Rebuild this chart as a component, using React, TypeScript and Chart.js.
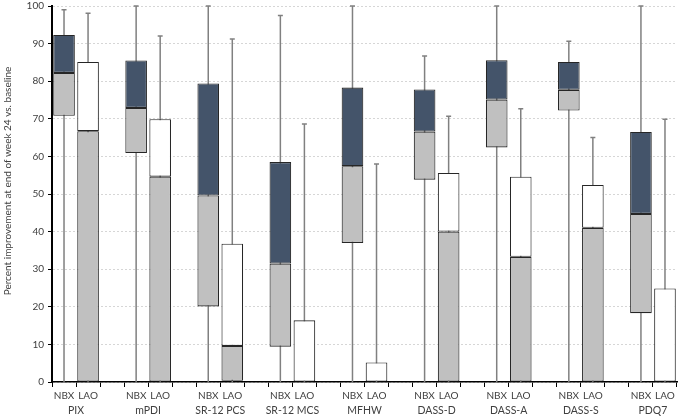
import React, { useEffect, useRef } from 'react';
import { Chart, registerables } from 'chart.js';

Chart.register(...registerables);

const categories = ['PIX', 'mPDI', 'SR-12 PCS', 'SR-12 MCS', 'MFHW', 'DASS-D', 'DASS-A', 'DASS-S', 'PDQ7'];
const groups = ['NBX', 'LAO'];

const nbxMin = [0, 0, 0, 0, 0, 0, 0, 0, 0];
const nbxQ1 = [70.8, 60.9, 20.1, 9.4, 37.0, 53.8, 62.4, 72.2, 18.3];
const nbxMedian = [82.2, 72.9, 49.6, 31.5, 57.4, 66.6, 75.1, 77.7, 44.7];
const nbxQ3 = [92.3, 85.5, 79.4, 58.5, 78.3, 77.8, 85.6, 85.1, 66.5];
const nbxMax = [99.0, 100, 100, 97.5, 100, 86.7, 100, 90.6, 100];

const laoMin = [0, 0, 0, 0, 0, 0, 0, 0, 0];
const laoQ1 = [0, 0, 0.3, 0, 0, 0, 0, 0, 0];
const laoMedian = [66.7, 54.6, 9.6, 0, 0, 40.0, 33.3, 41.0, 0];
const laoQ3 = [85.1, 69.9, 36.8, 16.4, 5.2, 55.6, 54.6, 52.4, 24.9];
const laoMax = [98.1, 92.0, 91.2, 68.6, 58.0, 70.7, 72.7, 65.0, 69.9];

const yMin = 0;
const yMax = 100;
const yStep = 10;
const yTitle = 'Percent improvement at end of week 24 vs. baseline';

const FONT = "Lato, 'Open Sans', sans-serif";
const TEXT = '#404040';

// slot layout: NBX, LAO, blank per category (no trailing blank)
const xLabels: string[] = [];
const nbxLower: (number[] | null)[] = [];
const nbxUpper: (number[] | null)[] = [];
const laoLower: (number[] | null)[] = [];
const laoUpper: (number[] | null)[] = [];
categories.forEach((_, k) => {
  xLabels.push(groups[0], groups[1]);
  nbxLower.push(nbxMedian[k] > nbxQ1[k] ? [nbxQ1[k], nbxMedian[k]] : null, null);
  nbxUpper.push(nbxQ3[k] > nbxMedian[k] ? [nbxMedian[k], nbxQ3[k]] : null, null);
  laoLower.push(null, laoMedian[k] > laoQ1[k] ? [laoQ1[k], laoMedian[k]] : null);
  laoUpper.push(null, laoQ3[k] > laoMedian[k] ? [laoMedian[k], laoQ3[k]] : null);
  if (k < categories.length - 1) {
    xLabels.push('');
    nbxLower.push(null);
    nbxUpper.push(null);
    laoLower.push(null);
    laoUpper.push(null);
  }
});

const whiskerPlugin = {
  id: 'whiskers',
  beforeDatasetsDraw(chart: any) {
    const { ctx, scales } = chart;
    const x = scales.x;
    const y = scales.y;
    ctx.save();
    ctx.strokeStyle = '#808080';
    ctx.lineWidth = 1.5;
    const draw = (slot: number, lo: number, hi: number) => {
      const px = x.getPixelForValue(slot);
      const y1 = y.getPixelForValue(lo);
      const y2 = y.getPixelForValue(hi);
      ctx.beginPath();
      ctx.moveTo(px, y1);
      ctx.lineTo(px, y2);
      ctx.moveTo(px - 2.5, y2);
      ctx.lineTo(px + 2.5, y2);
      ctx.stroke();
    };
    categories.forEach((_, k) => {
      draw(3 * k, nbxMin[k], nbxMax[k]);
      draw(3 * k + 1, laoMin[k], laoMax[k]);
    });
    ctx.restore();
  },
};

const textPlugin = {
  id: 'groupLabels',
  afterDraw(chart: any) {
    const { ctx, scales } = chart;
    const x = scales.x;
    ctx.save();
    ctx.fillStyle = TEXT;
    ctx.font = `10.5px ${FONT}`;
    ctx.textAlign = 'center';
    ctx.textBaseline = 'middle';
    categories.forEach((name, k) => {
      const px = (x.getPixelForValue(3 * k) + x.getPixelForValue(3 * k + 1)) / 2;
      ctx.fillText(name, px, 411);
    });
    // y-axis title
    ctx.translate(8, 181);
    ctx.rotate(-Math.PI / 2);
    ctx.font = `10px ${FONT}`;
    ctx.fillText(yTitle, 0, 0);
    ctx.restore();
  },
};

export default function App() {
  const ref = useRef<HTMLCanvasElement | null>(null);
  useEffect(() => {
    if (!ref.current) return;
    const barCommon = {
      grouped: false,
      borderColor: '#262626',
      borderWidth: 1.1,
      borderSkipped: false,
      barPercentage: 0.9,
      categoryPercentage: 1.0,
    };
    const chart = new Chart(ref.current, {
      type: 'bar',
      data: {
        labels: xLabels,
        datasets: [
          { ...barCommon, label: 'NBX lower', data: nbxLower as any, backgroundColor: '#c0c0c0' },
          { ...barCommon, label: 'NBX upper', data: nbxUpper as any, backgroundColor: '#44546a' },
          { ...barCommon, label: 'LAO lower', data: laoLower as any, backgroundColor: '#c0c0c0' },
          { ...barCommon, label: 'LAO upper', data: laoUpper as any, backgroundColor: '#ffffff' },
        ],
      },
      options: {
        responsive: false,
        animation: false,
        layout: { padding: { top: 6, right: 3, left: 0, bottom: 0 } },
        plugins: { legend: { display: false }, tooltip: { enabled: false } },
        scales: {
          x: {
            type: 'category',
            afterFit: (s: any) => { s.height = 36; s.paddingLeft = 0; s.paddingRight = 0; },
            grid: {
              display: true,
              offset: true,
              drawOnChartArea: false,
              drawTicks: true,
              tickLength: 5,
              tickColor: '#000000',
              tickWidth: 1,
            },
            border: { display: true, color: '#000000', width: 1.5 },
            ticks: {
              autoSkip: false,
              maxRotation: 0,
              padding: 3,
              color: TEXT,
              font: { family: FONT, size: 10 },
            },
          },
          y: {
            min: yMin,
            max: yMax,
            afterFit: (s: any) => { s.width = 52; s.paddingTop = 0; s.paddingBottom = 0; },
            grid: {
              color: '#d6d6d6',
              lineWidth: 1,
              drawTicks: true,
              tickLength: 4,
              tickColor: '#000000',
              tickWidth: 1,
            },
            border: { display: true, color: '#000000', width: 2, dash: [2, 2] },
            ticks: {
              stepSize: yStep,
              padding: 4,
              color: TEXT,
              font: { family: FONT, size: 10 },
            },
          },
        },
      },
      plugins: [whiskerPlugin, textPlugin],
    });
    return () => chart.destroy();
  }, []);
  return (
    <div style={{ position: 'absolute', left: 0, top: 0, width: 680, height: 418, background: '#fff' }}>
      <canvas ref={ref} width={680} height={418} style={{ display: 'block' }} />
    </div>
  );
}
